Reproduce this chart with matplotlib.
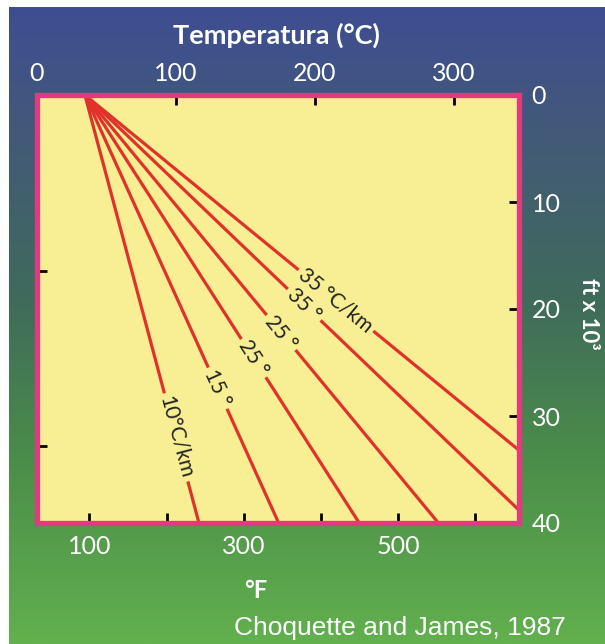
import numpy as np
import matplotlib
matplotlib.use("Agg")
import matplotlib.pyplot as plt
from matplotlib.colors import LinearSegmentedColormap
from matplotlib.ticker import FixedLocator, FuncFormatter

# surface temperature (C) where all gradient lines start
t_surface = 34.5
# each line: end temperature (C) and end depth (ft x 10^3)
line_end_temp = [116.6, 174.0, 232.0, 289.0, 347.0, 347.0]
line_end_depth = [40.0, 40.0, 40.0, 40.0, 38.8, 33.2]
line_labels = ["10°C/km", "15 °", "25 °", "25 °", "35 °", "35 °C/km"]
label_depth = [32.0, 27.4, 24.6, 22.2, 19.6, 19.2]

c_ticks = [0, 100, 200, 300]
ft_ticks = [0, 10, 20, 30, 40]
f_ticks = [100, 200, 300, 400, 500, 600]
f_labeled = [100, 300, 500]
km_ticks = [5, 10]

W, H = 605, 644
fig = plt.figure(figsize=(W / 100, H / 100), dpi=100, facecolor="white")

# gradient background
bg = fig.add_axes([9 / W, 0, 1 - 9 / W, 1 - 7 / H])
cmap = LinearSegmentedColormap.from_list(
    "bg", [(0.0, "#3e4d92"), (0.2, "#435a78"), (0.45, "#3f6a5c"),
           (0.7, "#4a8c4a"), (1.0, "#62b04e")])
bg.imshow(np.linspace(0, 1, 256).reshape(-1, 1), aspect="auto", cmap=cmap,
          extent=[0, 1, 1, 0])
bg.set_axis_off()

ax = fig.add_axes([37 / W, 1 - 523 / H, (519 - 37) / W, (523 - 95) / H])
ax.set_facecolor("#f8ee94")
ax.set_xlim(0, 347)
ax.set_ylim(40, 0)

red = "#e0322b"
for t_end, d_end in zip(line_end_temp, line_end_depth):
    ax.plot([t_surface, t_end], [0, d_end], color=red, lw=2.3,
            solid_capstyle="butt", zorder=2, clip_on=False)

fig.canvas.draw()
for t_end, d_end, lab, d in zip(line_end_temp, line_end_depth, line_labels, label_depth):
    t = np.interp(d, [0, d_end], [t_surface, t_end])
    p0 = ax.transData.transform((t_surface, 0))
    p1 = ax.transData.transform((t_end, d_end))
    ang = np.degrees(np.arctan2(p1[1] - p0[1], p1[0] - p0[0]))
    ax.text(t, d, lab, rotation=ang, rotation_mode="anchor", ha="center",
            va="center", fontsize=15, family="Lato", color="#222222", zorder=3,
            bbox=dict(facecolor="#f8ee94", edgecolor="none", pad=2.5))

pink = "#e23a80"
for s in ax.spines.values():
    s.set_color(pink)
    s.set_linewidth(3.8)
    s.set_zorder(5)

tick_font = dict(family="Lato", size=18)

# top axis: Celsius
ax.xaxis.tick_top()
ax.set_xticks(c_ticks)
ax.tick_params(axis="x", direction="in", length=7, width=2, color="black",
               labelcolor="white", pad=7)
# right axis: depth in ft x 10^3
ax.yaxis.tick_right()
ax.set_yticks(ft_ticks)
ax.tick_params(axis="y", direction="in", length=7, width=2, color="black",
               labelcolor="white", pad=9)
for lbl in ax.get_xticklabels() + ax.get_yticklabels():
    lbl.set_fontproperties(tick_font)

# bottom axis: Fahrenheit
sec_f = ax.secondary_xaxis("bottom", functions=(lambda c: c * 9 / 5 + 32,
                                                 lambda f: (f - 32) * 5 / 9))
sec_f.xaxis.set_major_locator(FixedLocator(f_ticks))
sec_f.xaxis.set_major_formatter(FuncFormatter(
    lambda v, p: "%d" % v if int(round(v)) in f_labeled else ""))
sec_f.tick_params(direction="in", length=7, width=2, color="black",
                  labelcolor="white", pad=9)
for lbl in sec_f.get_xticklabels():
    lbl.set_fontproperties(tick_font)
sec_f.spines["bottom"].set_visible(False)

# left axis: km (no labels)
sec_km = ax.secondary_yaxis("left", functions=(lambda k: k * 0.3048,
                                                lambda km: km / 0.3048))
sec_km.yaxis.set_major_locator(FixedLocator(km_ticks))
sec_km.yaxis.set_major_formatter(FuncFormatter(lambda v, p: ""))
sec_km.tick_params(direction="in", length=7, width=2, color="black")
sec_km.spines["left"].set_visible(False)

fig.text(276 / W, 1 - 35 / H, "Temperatura (°C)", color="white",
         fontsize=19.5, family="Lato", fontweight="bold", ha="center", va="center")
fig.text(589 / W, 1 - 314 / H, "ft x 10³", color="white", fontsize=16,
         family="Lato", fontweight="bold", rotation=-90, ha="center", va="center")
fig.text(256 / W, 1 - 591 / H, "°F", color="white", fontsize=17,
         family="Lato", fontweight="bold", ha="center", va="center")
fig.text(234 / W, 1 - 628 / H, "Choquette and James, 1987", color="white",
         fontsize=19, family="Liberation Sans", ha="left", va="center")

fig.savefig("out.png", dpi=100, facecolor="white")
